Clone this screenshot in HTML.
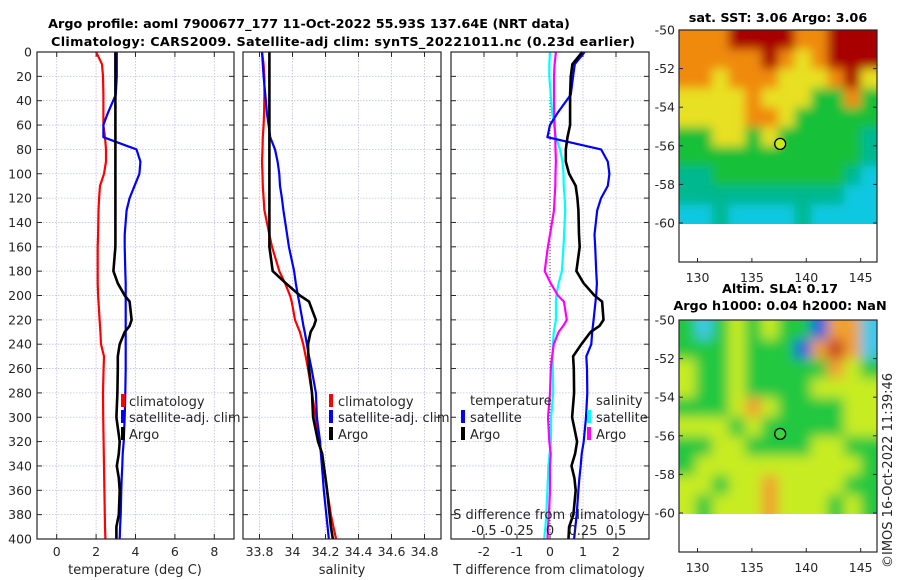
<!DOCTYPE html>
<html><head><meta charset="utf-8"><style>
body{margin:0;background:#fff;}
svg{display:block;font-family:"DejaVu Sans","Liberation Sans",sans-serif;}
.tk{font-size:12.5px;fill:#262626;}
.tt{font-size:12.8px;font-weight:bold;fill:#000;}
.lg{font-size:13px;fill:#262626;}
</style></head><body>
<svg id="fig" width="900" height="580" viewBox="0 0 900 580" xmlns="http://www.w3.org/2000/svg">
<defs>
<filter id="blur1" x="-5%" y="-5%" width="110%" height="110%"><feGaussianBlur stdDeviation="5"/></filter>
<filter id="blur2" x="-5%" y="-5%" width="110%" height="110%"><feGaussianBlur stdDeviation="6"/></filter>
<clipPath id="clipM1"><rect x="679" y="30" width="198" height="194"/></clipPath>
<clipPath id="clipM2"><rect x="679" y="320" width="198" height="194"/></clipPath>
</defs>
<text class="tt" x="309" y="28" text-anchor="middle">Argo profile: aoml 7900677_177 11-Oct-2022 55.93S 137.64E (NRT data)</text>
<text class="tt" x="343" y="46" text-anchor="middle" textLength="584">Climatology: CARS2009. Satellite-adj clim: synTS_20221011.nc (0.23d earlier)</text>
<g id="p1"></g>
<g id="p2"></g>
<g id="p3"></g>
<g id="m1"></g>
<g id="m2"></g>
<text class="lg" transform="translate(892,568) rotate(-90)">©IMOS 16-Oct-2022 11:39:46</text>
</svg>
<script>
const depths=[0,10,20,35,50,60,70,80,90,100,110,120,130,150,160,180,190,200,205,220,225,230,240,250,260,280,300,320,330,340,350,360,380,390,400];
const tClim=[2.0,2.3,2.35,2.37,2.37,2.37,2.45,2.5,2.5,2.4,2.2,2.15,2.12,2.1,2.08,2.08,2.08,2.1,2.12,2.18,2.2,2.22,2.25,2.4,2.38,2.35,2.36,2.38,2.39,2.4,2.41,2.42,2.44,2.45,2.47];
const tSat=[3.05,3.05,3.05,3.0,2.6,2.37,2.37,4.05,4.25,4.2,3.95,3.7,3.55,3.45,3.45,3.48,3.5,3.5,3.5,3.5,3.5,3.5,3.5,3.5,3.5,3.48,3.45,3.4,3.35,3.33,3.3,3.28,3.25,3.22,3.2];
const tArgo=[2.98,2.98,2.98,2.98,2.98,2.98,2.98,2.98,2.98,2.98,2.98,2.98,2.98,2.98,2.98,2.88,3.1,3.45,3.7,3.8,3.7,3.45,3.2,3.1,3.1,3.08,3.03,3.2,3.15,3.05,3.15,3.2,3.15,3.03,3.03];
const sClim=[33.815,33.825,33.83,33.83,33.828,33.825,33.82,33.818,33.815,33.818,33.82,33.825,33.83,33.86,33.876,33.92,33.955,33.985,33.995,34.015,34.03,34.045,34.065,34.08,34.094,34.118,34.14,34.16,34.175,34.19,34.2,34.21,34.233,34.248,34.264];
const sSat=[33.815,33.82,33.825,33.835,33.845,33.855,33.865,33.894,33.91,33.92,33.924,33.936,33.945,33.967,33.978,34.01,34.02,34.033,34.04,34.06,34.066,34.074,34.087,34.1,34.115,34.142,34.148,34.167,34.172,34.178,34.184,34.19,34.205,34.213,34.22];
const sArgo=[33.86,33.86,33.86,33.86,33.86,33.86,33.86,33.86,33.86,33.86,33.86,33.86,33.86,33.86,33.86,33.88,33.96,34.045,34.1,34.142,34.13,34.11,34.094,34.096,34.1,34.118,34.125,34.155,34.18,34.19,34.2,34.21,34.225,34.233,34.245];
const depthTicks=[0,20,40,60,80,100,120,140,160,180,200,220,240,260,280,300,320,340,360,380,400];
const tTicks=[0,2,4,6,8];
const sTicks=[33.8,34,34.2,34.4,34.6,34.8];
const sTickLabels=["33.8","34","34.2","34.4","34.6","34.8"];
const dTTicks=[-2,-1,0,1,2];
const dSTicks=[-0.5,-0.25,0,0.25,0.5];
const dSTickLabels=["-0.5","-0.25","0","0.25","0.5"];
const latTicks=[-50,-52,-54,-56,-58,-60];
const lonTicks=[130,135,140,145];
const argoPos=[137.6,-55.9];

const NS="http://www.w3.org/2000/svg";
function mk(tag,attrs,parent){const e=document.createElementNS(NS,tag);for(const k in attrs)e.setAttribute(k,attrs[k]);parent.appendChild(e);return e;}
const Y0=52,Y1=539;
const yD=d=>Y0+d*(Y1-Y0)/400;

function panel(g,x0,x1,xmin,xmax,xticks,xlabels,showY){
  const xs=v=>x0+(v-xmin)*(x1-x0)/(xmax-xmin);
  depthTicks.forEach(d=>{
    const l=mk('line',{x1:x0,x2:x1,y1:yD(d),y2:yD(d),stroke:'#b8c4e8','stroke-width':0.8,'stroke-dasharray':'1.5,1.5'},g);
    
    
    mk('line',{x1:x0,x2:x0+5,y1:yD(d),y2:yD(d),stroke:'#262626'},g);
    mk('line',{x1:x1-5,x2:x1,y1:yD(d),y2:yD(d),stroke:'#262626'},g);
    if(showY){const t=mk('text',{x:x0-5,y:yD(d)+4.5,'text-anchor':'end',class:'tk'},g);t.textContent=d;
      
      }
  });
  xticks.forEach((v,i)=>{
    const l=mk('line',{x1:xs(v),x2:xs(v),y1:Y0,y2:Y1,stroke:'#c8b8d8','stroke-width':0.8,'stroke-dasharray':'1.5,1.5'},g);
    
    
    mk('line',{x1:xs(v),x2:xs(v),y1:Y1-5,y2:Y1,stroke:'#262626'},g);
    mk('line',{x1:xs(v),x2:xs(v),y1:Y0,y2:Y0+5,stroke:'#262626'},g);
    const t=mk('text',{x:xs(v),y:Y1+17,'text-anchor':'middle',class:'tk'},g);t.textContent=xlabels[i];
    
    
  });
  return xs;
}
function line(g,xs,vals,color,w,name){
  const p=depths.map((d,i)=>xs(vals[i]).toFixed(1)+','+yD(d).toFixed(1)).join(' ');
  const e=mk('polyline',{points:p,fill:'none',stroke:color,'stroke-width':w,'stroke-linejoin':'round'},g);
  
  
}
function box(g,x0,x1){mk('rect',{x:x0,y:Y0,width:x1-x0,height:Y1-Y0,fill:'none',stroke:'#262626','stroke-width':1.2},g);}
function txt(g,x,y,s,cls,anchor,name){const t=mk('text',{x:x,y:y,class:cls,'text-anchor':anchor||'start'},g);t.textContent=s;
  
  return t;}
function legMark(g,x,y,c,name){const r=mk('rect',{x:x-2,y:y-13,width:4,height:13,fill:c},g);
  
  }

const g1=document.getElementById('p1');
const xs1=panel(g1,37,234,-1,9,tTicks,tTicks.map(String),true);
line(g1,xs1,tClim,'#ff0000',2.2,'temp-climatology-line');
line(g1,xs1,tSat,'#0000ff',2.2,'temp-satellite-line');
line(g1,xs1,tArgo,'#000000',2.6,'temp-argo-line');
box(g1,37,234);
txt(g1,135,574,'temperature (deg C)','lg','middle','temperature-axis-title');
legMark(g1,123,407,'#ff0000','legend-marker-climatology');txt(g1,129,406,'climatology','lg','start','legend-climatology');
legMark(g1,123,423,'#0000ff','legend-marker-satellite');txt(g1,129,422,'satellite-adj. clim','lg','start','legend-satellite');
legMark(g1,123,440,'#000000','legend-marker-argo');txt(g1,129,439,'Argo','lg','start','legend-argo');

const g2=document.getElementById('p2');
const xs2=panel(g2,243,441,33.7,34.9,sTicks,sTickLabels,false);
line(g2,xs2,sClim,'#ff0000',2.2,'sal-climatology-line');
line(g2,xs2,sSat,'#0000ff',2.2,'sal-satellite-line');
line(g2,xs2,sArgo,'#000000',2.6,'sal-argo-line');
box(g2,243,441);
txt(g2,342,574,'salinity','lg','middle','salinity-axis-title');
legMark(g2,331,407,'#ff0000','legend-marker-climatology');txt(g2,338,406,'climatology','lg','start','legend-climatology');
legMark(g2,331,423,'#0000ff','legend-marker-satellite');txt(g2,338,422,'satellite-adj. clim','lg','start','legend-satellite');
legMark(g2,331,440,'#000000','legend-marker-argo');txt(g2,338,439,'Argo','lg','start','legend-argo');

const g3=document.getElementById('p3');
const xs3=panel(g3,451,649,-3,3,dTTicks,dTTicks.map(String),false);
const xs3s=v=>xs3(v*4);
const zl=mk('line',{x1:xs3(0),x2:xs3(0),y1:Y0,y2:Y1,stroke:'#444','stroke-width':1,'stroke-dasharray':'1,2'},g3);


const dTS=tSat.map((v,i)=>v-tClim[i]), dTA=tArgo.map((v,i)=>v-tClim[i]);
const dSS=sSat.map((v,i)=>v-sClim[i]), dSA=sArgo.map((v,i)=>v-sClim[i]);
line(g3,xs3s,dSS,'#00ffff',2.2,'sal-satellite-diff-line');
line(g3,xs3s,dSA,'#ff00ff',2.2,'sal-argo-diff-line');
line(g3,xs3,dTS,'#0000ff',2.2,'temp-satellite-diff-line');
line(g3,xs3,dTA,'#000000',2.6,'temp-argo-diff-line');
box(g3,451,649);
txt(g3,549,574,'T difference from climatology','lg','middle','t-diff-axis-title');
txt(g3,549,519,'S difference from climatology','lg','middle','s-diff-axis-title');
dSTicks.forEach((v,i)=>{txt(g3,xs3s(v),535,dSTickLabels[i],'lg','middle','s-diff-tick-label');});
txt(g3,470,405,'temperature','lg','start','legend-temperature-heading');
legMark(g3,463,423,'#0000ff','legend-marker-t-satellite');txt(g3,470,422,'satellite','lg','start','legend-t-satellite');
legMark(g3,463,440,'#000000','legend-marker-t-argo');txt(g3,470,439,'Argo','lg','start','legend-t-argo');
txt(g3,596,405,'salinity','lg','start','legend-salinity-heading');
legMark(g3,589,423,'#00ffff','legend-marker-s-satellite');txt(g3,596,422,'satellite','lg','start','legend-s-satellite');
legMark(g3,589,440,'#ff00ff','legend-marker-s-argo');txt(g3,596,439,'Argo','lg','start','legend-s-argo');

const sstGrid=["oooRRRRooRRR","oooooRoyoRRR","ooyoooyyyoRy","yyyyoyyyggog","yyyyooyggggg","ggyygygggggt","gggggggggggt","ttggggggggtc","ttttttttttcc","cctcccctcccc"];
const sstCol={R:'#a80000',o:'#f08a10',y:'#e8e020',g:'#18c038',t:'#00b890',c:'#10c8e0'};
const slaGrid=["gcgygyggbooc","gggygggboRoc","yggygggggoyg","yggyggggyyyy","gggyoyggggyy","yyygygggggyy","ggyyggggyygg","gyyyyyyyyyyg","yygyyoyyyygg","ygyyyoyyygyg"];
const slaCol={g:'#22c840',y:'#c8ec20',o:'#f0a030',R:'#c84020',b:'#1060e0',c:'#40c8e8'};
function map(id,yTop,grid,cols,blur,clip,title1,title2,dotCol){
  const g=document.getElementById(id);
  const x0=679,x1=877,lonMin=128.3,lonMax=146.5;
  const lx=v=>x0+(v-lonMin)*(x1-x0)/(lonMax-lonMin);
  const ly=v=>yTop+(-50-v)*19.3;
  const img=mk('g',{'clip-path':'url(#'+clip+')'},g);
  const inner=mk('g',{filter:'url(#'+blur+')'},img);
  const cw=(x1-x0)/12, ch=194/10;
  grid.forEach((row,r)=>{for(let c=0;c<12;c++){
    const col=cols[row[c]]||cols.g;
    mk('rect',{x:x0+c*cw-(c==0?12:0),y:yTop+r*ch-(r==0?12:0),width:cw+1+(c==0||c==11?12:0),height:ch+1+(r==0||r==9?12:0),fill:col},inner);
  }});
  mk('rect',{x:x0,y:yTop,width:x1-x0,height:232,fill:'none',stroke:'#262626','stroke-width':1.2},g);
  latTicks.forEach(v=>{
    mk('line',{x1:x0,x2:x0+4,y1:ly(v),y2:ly(v),stroke:'#262626'},g);
    mk('line',{x1:x1-4,x2:x1,y1:ly(v),y2:ly(v),stroke:'#262626'},g);
    txt(g,x0-4,ly(v)+4.5,String(v),'tk','end','lat-tick-label');
  });
  lonTicks.forEach(v=>{
    mk('line',{x1:lx(v),x2:lx(v),y1:yTop+232,y2:yTop+228,stroke:'#262626'},g);
    txt(g,lx(v),yTop+252,String(v),'tk','middle','lon-tick-label');
  });
  const dot=mk('circle',{cx:lx(argoPos[0]),cy:ly(argoPos[1]),r:5.5,fill:dotCol,stroke:'#000','stroke-width':1.3},g);
  
  
  if(title2){txt(g,780,yTop-27,title1,'tt','middle','map-title');txt(g,780,yTop-10,title2,'tt','middle','map-subtitle');}
  else txt(g,778,yTop-8,title1,'tt','middle','map-title');
}
map('m1',30,sstGrid,sstCol,'blur1','clipM1','sat. SST: 3.06 Argo: 3.06',null,'#c8e820');
map('m2',320,slaGrid,slaCol,'blur2','clipM2','Altim. SLA: 0.17','Argo h1000: 0.04 h2000: NaN','#40d040');
</script>
</body></html>
